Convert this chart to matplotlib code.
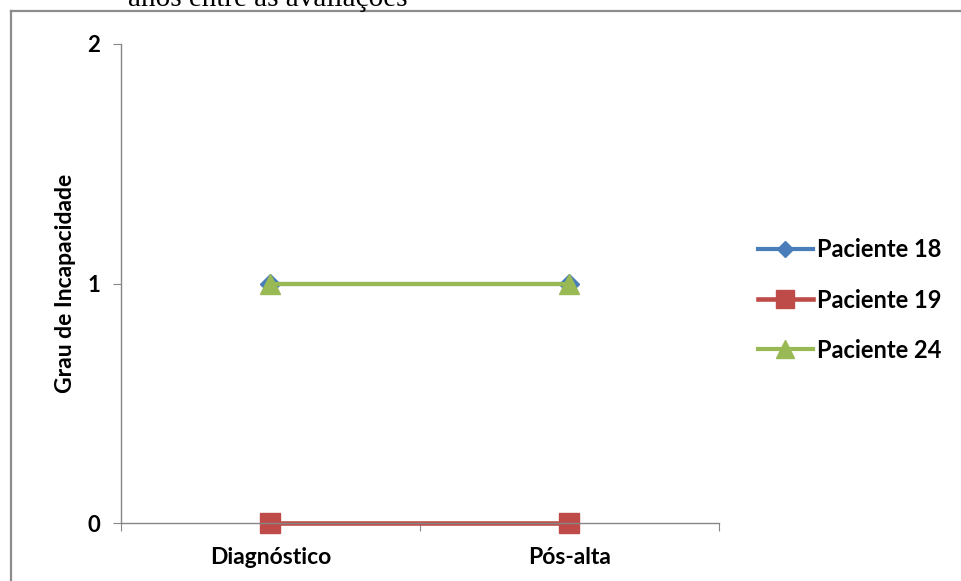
import matplotlib.pyplot as plt
from matplotlib.lines import Line2D

# Grau de incapacidade por paciente nas duas avaliações
momentos = ['Diagnóstico', 'Pós-alta']
pac18 = [1, 1]
pac19 = [0, 0]
pac24 = [1, 1]
yticks = [0, 1, 2]

W, H = 962, 581
fig = plt.figure(figsize=(W / 100, H / 100), dpi=100)
fig.patch.set_facecolor('white')

fonte = {'family': 'Lato', 'weight': 'bold'}

# moldura do gráfico (só topo e esquerda aparecem no recorte)
borda = '#8c8c8c'
fig.add_artist(Line2D([10.5 / W, 10.5 / W], [0, 1 - 10.5 / H], transform=fig.transFigure,
                      color=borda, lw=1.6))
fig.add_artist(Line2D([10.5 / W, 1], [1 - 10.5 / H, 1 - 10.5 / H], transform=fig.transFigure,
                      color=borda, lw=1.6))

# resto do título do documento, cortado no topo
fig.text(268 / W, 1 - 6 / H, 'anos entre as avaliações', family='Liberation Serif',
         fontsize=21, ha='center', va='baseline')

ax = fig.add_axes([121 / W, 1 - 523 / H, (719 - 121) / W, (523 - 44) / H])
x = range(len(momentos))
ax.plot(x, pac18, color='#4a7ebb', lw=3, marker='D', ms=10, label='Paciente 18')
ax.plot(x, pac19, color='#be4b48', lw=3.3, marker='s', ms=15, label='Paciente 19', clip_on=False)
ax.plot(x, pac24, color='#98b954', lw=3, marker='^', ms=15, label='Paciente 24')

ax.set_xlim(-0.5, len(momentos) - 0.5)
ax.set_ylim(0, 2)
ax.set_yticks(yticks)
ax.set_yticklabels([str(v) for v in yticks], fontsize=16, **fonte)
ax.set_xticks([-0.5, 0.5, 1.5])
ax.set_xticklabels([])
ax.set_xticks(list(x), minor=True)
ax.set_xticklabels(momentos, minor=True, fontsize=16.5, **fonte)
ax.tick_params(axis='x', which='minor', length=0, pad=17)
ax.tick_params(axis='x', which='major', length=6, color='#868686', direction='out')
ax.tick_params(axis='y', length=6, color='#868686', direction='out', pad=9)

for s in ['top', 'right']:
    ax.spines[s].set_visible(False)
for s in ['left', 'bottom']:
    ax.spines[s].set_color('#868686')
    ax.spines[s].set_linewidth(1)

ax.set_ylabel('Grau de Incapacidade', fontsize=16.5, labelpad=8, **fonte)

leg = fig.legend(loc='center left', bbox_to_anchor=(737 / W, 1 - 300 / H), frameon=False,
                 prop={'family': 'Lato', 'weight': 'bold', 'size': 17},
                 handlelength=2.3, handletextpad=0.2, labelspacing=1.15, markerscale=0.85)

fig.savefig('out.png', dpi=100)
